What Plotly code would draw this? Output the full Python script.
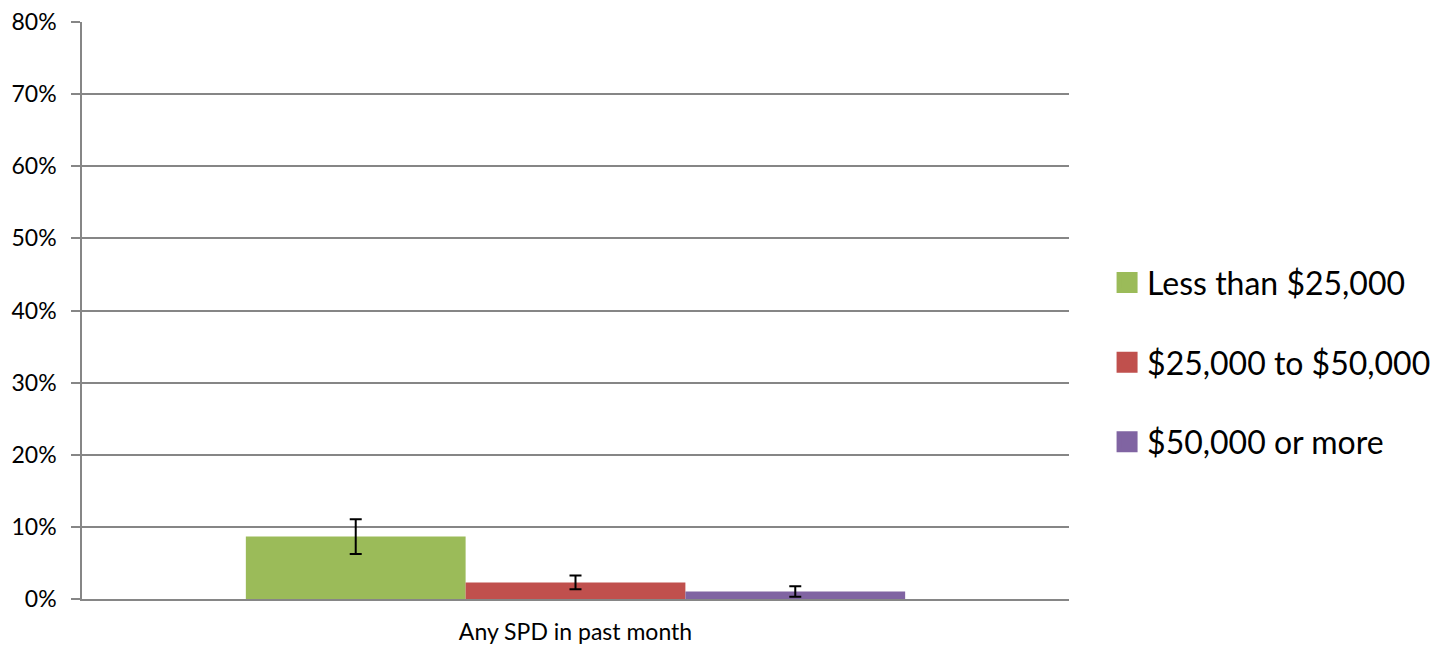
import plotly.graph_objects as go

# Share of adults with serious psychological distress (SPD), by household income
categories = ["Any SPD in past month"]
groups = ["Less than $25,000", "$25,000 to $50,000", "$50,000 or more"]
values = [8.65, 2.3, 1.04]        # percent
errors = [2.42, 0.95, 0.72]       # +/- percent
colors = ["#9BBB59", "#C0504D", "#8064A2"]

y_ticks = [0, 10, 20, 30, 40, 50, 60, 70, 80]
y_tick_labels = [f"{t}%" for t in y_ticks]

FONT = "Lato, Calibri, sans-serif"

fig = go.Figure()
for name, val, err, col in zip(groups, values, errors, colors):
    fig.add_trace(go.Bar(
        x=categories,
        y=[val],
        name=name,
        showlegend=False,
        marker=dict(color=col, line=dict(width=0)),
        error_y=dict(type="data", array=[err], visible=True,
                     color="black", thickness=2, width=6),
    ))

# Square swatches for the legend (no visible points on the plot)
for name, col in zip(groups, colors):
    fig.add_trace(go.Scatter(
        x=categories, y=[None], name=name, mode="markers",
        legendgroup=name, showlegend=True,
        marker=dict(symbol="square", size=16, color=col,
                    line=dict(color=col, width=5)),
        hoverinfo="skip",
    ))

fig.update_layout(
    width=1443, height=647,
    margin=dict(l=82, r=374, t=22, b=48),
    paper_bgcolor="white", plot_bgcolor="white",
    barmode="group", bargap=0.332, bargroupgap=0,
    font=dict(family=FONT, color="black"),
    showlegend=True,
    legend=dict(
        x=0.7672, xanchor="left", xref="container",
        y=0.44, yanchor="middle", yref="container",
        font=dict(size=32, family=FONT, color="black"),
        tracegroupgap=35,
        traceorder="grouped",
        itemwidth=30,
        itemsizing="trace",
        bgcolor="rgba(0,0,0,0)",
    ),
    xaxis=dict(
        showline=True, linecolor="#868686", linewidth=1.5,
        ticks="", tickfont=dict(size=23, family=FONT),
        ticklabelstandoff=12,
        showgrid=False, zeroline=False, automargin=False,
    ),
    yaxis=dict(
        range=[0, 80],
        tickvals=y_ticks, ticktext=y_tick_labels,
        tickfont=dict(size=23, family=FONT),
        ticklabelstandoff=10,
        showline=True, linecolor="#868686", linewidth=1.5,
        ticks="outside", ticklen=9, tickcolor="#868686", tickwidth=1.5,
        showgrid=True, gridcolor="#868686", gridwidth=1.5,
        zeroline=False, automargin=False,
    ),
)

fig.write_html("out.html")
